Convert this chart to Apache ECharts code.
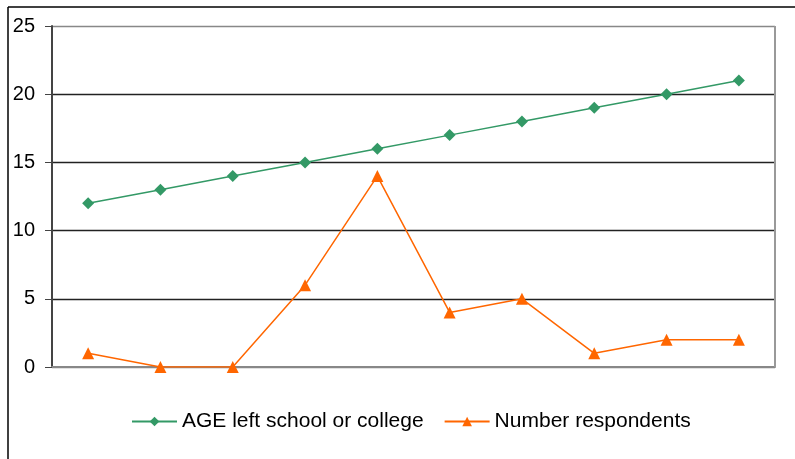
<!DOCTYPE html>
<html>
<head>
<meta charset="utf-8">
<script src="https://cdn.jsdelivr.net/npm/echarts@6/dist/echarts.min.js"></script>
<style>
  html, body { margin: 0; padding: 0; background: #fff; }
  #chart { width: 795px; height: 459px; }
</style>
</head>
<body>
<div id="chart"></div>
<script>
// Ten observations along the x axis (no labels shown)
const categories = ['1', '2', '3', '4', '5', '6', '7', '8', '9', '10'];
const ageLeftSchool = [12, 13, 14, 15, 16, 17, 18, 19, 20, 21];
const numberRespondents = [1, 0, 0, 6, 14, 4, 5, 1, 2, 2];
const yTicks = [0, 5, 10, 15, 20, 25];

const chart = echarts.init(document.getElementById('chart'), null, { renderer: 'canvas' });

const font = 'Liberation Sans, Arial, sans-serif';

chart.setOption({
  animation: false,
  backgroundColor: '#fff',
  grid: { left: 52, right: 20, top: 26, bottom: 92, containLabel: false },
  legend: {
    bottom: 22,
    left: 126,
    itemWidth: 45,
    itemHeight: 12,
    itemGap: 20,
    textStyle: { fontFamily: font, fontSize: 21, color: '#000' },
    data: ['AGE left school or college', 'Number respondents']
  },
  xAxis: {
    type: 'category',
    data: categories,
    boundaryGap: true,
    axisLine: { show: true, lineStyle: { color: '#888', width: 2 } },
    axisTick: { show: false },
    axisLabel: { show: false },
    splitLine: { show: false }
  },
  yAxis: {
    type: 'value',
    min: yTicks[0],
    max: yTicks[yTicks.length - 1],
    interval: 5,
    axisLine: { show: true, lineStyle: { color: '#444', width: 2 } },
    axisTick: { show: true, length: 7, lineStyle: { color: '#444', width: 1 } },
    axisLabel: { fontFamily: font, fontSize: 20, color: '#000', margin: 17 },
    splitLine: {
      show: true,
      lineStyle: { color: ['#888', '#222', '#222', '#222', '#222', '#888'], width: 1.3 }
    }
  },
  graphic: [
    // outer frame: top and left edges
    { type: 'line', shape: { x1: 8, y1: 7, x2: 795, y2: 7 }, style: { stroke: '#000', lineWidth: 1.5 }, z: 10 },
    { type: 'line', shape: { x1: 8, y1: 7, x2: 8, y2: 459 }, style: { stroke: '#000', lineWidth: 1.5 }, z: 10 },
    // right border of plot area
    { type: 'line', shape: { x1: 775, y1: 26, x2: 775, y2: 367 }, style: { stroke: '#999', lineWidth: 2 }, z: 10 }
  ],
  series: [
    {
      name: 'AGE left school or college',
      type: 'line',
      data: ageLeftSchool,
      symbol: 'diamond',
      symbolSize: 12,
      itemStyle: { color: '#339966' },
      lineStyle: { color: '#339966', width: 1.5 },
      z: 3
    },
    {
      name: 'Number respondents',
      type: 'line',
      data: numberRespondents,
      symbol: 'triangle',
      symbolSize: 12,
      itemStyle: { color: '#FF6600' },
      lineStyle: { color: '#FF6600', width: 1.5 },
      z: 4
    }
  ]
});
</script>
</body>
</html>
